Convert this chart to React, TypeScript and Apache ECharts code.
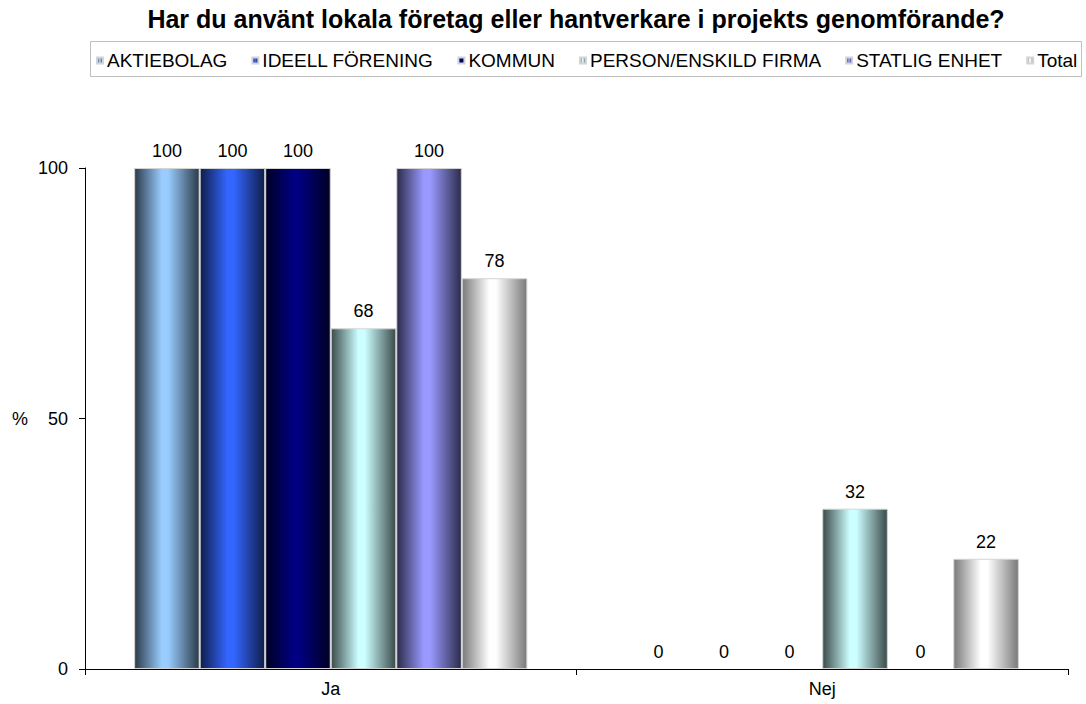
import React, { useEffect, useRef } from "react";
import * as echarts from "echarts";

const categories = ["Ja", "Nej"];
const seriesNames = ["AKTIEBOLAG", "IDEELL FÖRENING", "KOMMUN", "PERSON/ENSKILD FIRMA", "STATLIG ENHET", "Total"];
const aktiebolag = [100, 0];
const ideell = [100, 0];
const kommun = [100, 0];
const person = [68, 32];
const statlig = [100, 0];
const total = [78, 22];
const yTicks = [0, 50, 100];

const baseColors = ["#99CCFF", "#3366FF", "#000080", "#CCFFFF", "#9999FF", "#FFFFFF"];
const edgeColors = ["#2b3a49", "#0f1d4a", "#000024", "#3b4a4a", "#2b2b4a", "#7a7a7a"];

function grad(i: number) {
  return new echarts.graphic.LinearGradient(0, 0, 1, 0, [
    { offset: 0, color: edgeColors[i] },
    { offset: 0.42, color: baseColors[i] },
    { offset: 0.52, color: baseColors[i] },
    { offset: 1, color: edgeColors[i] },
  ]);
}

export default function App() {
  const ref = useRef<HTMLDivElement>(null);
  useEffect(() => {
    if (!ref.current) return;
    const chart = echarts.init(ref.current, null, { renderer: "svg" });
    const values = [aktiebolag, ideell, kommun, person, statlig, total];
    const font = "Liberation Sans, Arial, sans-serif";
    chart.setOption({
      animation: false,
      backgroundColor: "#ffffff",
      textStyle: { fontFamily: font },
      title: {
        text: "Har du använt lokala företag eller hantverkare i projekts genomförande?",
        left: 571,
        textAlign: "center",
        top: 1,
        textStyle: { fontFamily: font, fontSize: 25, fontWeight: "bold", color: "#000" },
      },
      graphic: [
        {
          type: "rect",
          shape: { x: 90.5, y: 41.5, width: 991, height: 35 },
          style: { fill: "none", stroke: "#c0c0c0", lineWidth: 1 },
          silent: true,
        },
      ],
      legend: {
        left: 91,
        top: 46,
        itemWidth: 6,
        itemHeight: 6,
        itemGap: 24,
        icon: "rect",
        textStyle: { fontFamily: font, fontSize: 19, color: "#000", padding: [0, 0, 0, -1] },
        data: seriesNames,
      },
      grid: { left: 85, right: 18, top: 168, bottom: 35, containLabel: false },
      xAxis: {
        type: "category",
        data: categories,
        axisLine: { lineStyle: { color: "#000", width: 1 } },
        axisTick: { show: true, alignWithLabel: false, length: 6, lineStyle: { color: "#000" } },
        axisLabel: { fontFamily: font, fontSize: 18, color: "#000", margin: 11 },
      },
      yAxis: {
        type: "value",
        min: 0,
        max: 100,
        interval: 50,
        name: "%",
        nameLocation: "middle",
        nameRotate: 0,
        nameGap: 57,
        nameTextStyle: { fontFamily: font, fontSize: 18, color: "#000" },
        axisLine: { show: true, lineStyle: { color: "#000", width: 1 } },
        axisTick: { show: true, length: 6, lineStyle: { color: "#000" } },
        axisLabel: {
          fontFamily: font,
          fontSize: 18,
          color: "#000",
          margin: 17,
          formatter: (v: number) => (yTicks.includes(v) ? String(v) : ""),
        },
        splitLine: { show: false },
      },
      series: seriesNames.map((name, i) => ({
        name,
        type: "bar",
        data: values[i].map((v) => ({ value: v, itemStyle: { borderWidth: v === 0 ? 0 : 1 } })),
        barGap: "0%",
        barCategoryGap: "20%",
        itemStyle: { color: grad(i), borderColor: "#d4d4d4", borderWidth: 1 },
        label: {
          show: true,
          position: "top",
          distance: 8,
          fontFamily: font,
          fontSize: 18,
          color: "#000",
        },
      })),
    });
    return () => chart.dispose();
  }, []);
  return <div ref={ref} style={{ width: 1086, height: 704, position: "absolute", left: 0, top: 0 }} />;
}
